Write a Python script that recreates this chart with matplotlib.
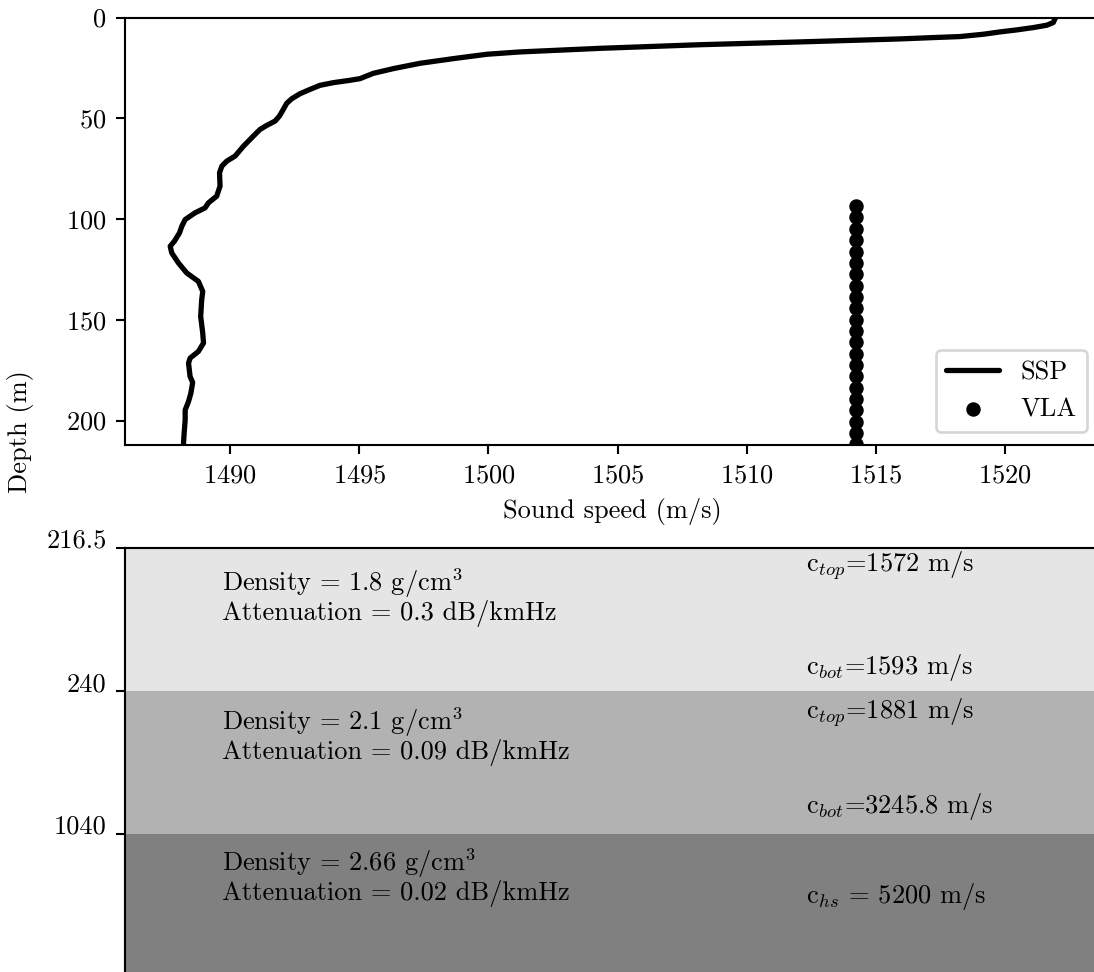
import matplotlib
matplotlib.use("Agg")
import matplotlib.pyplot as plt

plt.rcParams["font.family"] = "serif"
plt.rcParams["font.serif"] = ["cmr10"]
plt.rcParams["mathtext.fontset"] = "cm"
plt.rcParams["axes.formatter.use_mathtext"] = True
plt.rcParams["axes.unicode_minus"] = False
plt.rcParams["font.size"] = 10

# Sound speed profile (depth in m, sound speed in m/s)
ssp_depth = [0.0, 0.84, 2.50, 3.83, 4.99, 6.15, 7.14, 8.30, 9.46, 9.96,
             10.62, 11.12, 11.61, 12.11, 13.5, 15.3, 17.08, 18.24, 20.39,
             22.71, 25.36, 27.68, 30.33, 31.16, 32.32, 33.65, 35.64, 37.79,
             40.27, 42.59, 45.58, 48.89, 51.38, 53.53, 55.52, 58.83, 63.80,
             68.77, 71.26, 73.74, 77.05, 83.68, 88.65, 91.96, 94.45, 96.93,
             100.25, 103.56, 106.87, 111.02, 113.5, 116.8, 121.8, 126.75,
             130.9, 135.9, 140.0, 148.3, 156.6, 161.5, 165.7, 169.0, 171.5,
             178.1, 181.1, 186.4, 190.5, 194.7, 199.7, 206.3, 212.1]
ssp_speed = [1521.97, 1521.93, 1521.87, 1521.62, 1521.10, 1520.46, 1519.81,
             1519.17, 1518.26, 1517.23, 1515.94, 1514.65, 1513.36, 1512.07,
             1508.2, 1504.32, 1501.23, 1499.94, 1498.65, 1497.36, 1496.32,
             1495.55, 1495.03, 1494.64, 1494.0, 1493.48, 1493.10, 1492.71,
             1492.39, 1492.19, 1492.06, 1491.91, 1491.74, 1491.42, 1491.16,
             1490.90, 1490.52, 1490.19, 1489.87, 1489.68, 1489.59, 1489.61,
             1489.48, 1489.16, 1489.03, 1488.64, 1488.26, 1488.13, 1488.04,
             1487.84, 1487.68, 1487.74, 1488.0, 1488.32, 1488.77, 1488.94,
             1488.90, 1488.86, 1488.94, 1488.97, 1488.77, 1488.45, 1488.39,
             1488.45, 1488.55, 1488.48, 1488.39, 1488.26, 1488.26, 1488.22,
             1488.19]

# Vertical line array element depths and position in sound-speed axis
vla_depth = [93.6, 99.2, 104.9, 110.5, 116.1, 121.8, 127.4, 133.0, 138.6,
             144.3, 149.9, 155.5, 161.2, 166.8, 172.4, 178.0, 183.7, 189.3,
             194.9, 200.6, 206.2, 211.8]
vla_speed = 1514.25

# Seabed layers
layer_depths = ["216.5", "240", "1040"]
layer_colors = ["#e5e5e5", "#b2b2b2", "#808080"]
layer_density = ["1.8", "2.1", "2.66"]
layer_atten = ["0.3", "0.09", "0.02"]
c_top = ["1572", "1881"]
c_bot = ["1593", "3245.8"]
c_hs = "5200"

W, H, DPI = 1094, 972, 190
fig = plt.figure(figsize=(W / DPI, H / DPI), dpi=DPI)

# --- sound speed profile panel ---
ax1 = fig.add_axes([125 / W, 1 - 445 / H, 975 / W, (445 - 17.5) / H])
ax1.plot(ssp_speed, ssp_depth, color="black", lw=2, label="SSP",
         solid_joinstyle="round", solid_capstyle="round")
ax1.scatter([vla_speed] * len(vla_depth), vla_depth, s=20, color="black",
            label="VLA", zorder=3)
ax1.set_xlim(1485.93, 1523.68)
ax1.set_ylim(212.1, 0)
ax1.set_xticks([1490, 1495, 1500, 1505, 1510, 1515, 1520])
ax1.set_yticks([0, 50, 100, 150, 200])
ax1.spines["right"].set_visible(False)
ax1.set_xlabel("Sound speed (m/s)")
ax1.legend(loc="lower right")

fig.text(20 / W, 1 - 432 / H, "Depth (m)", rotation=90, ha="center",
         va="center")

# --- seabed layer panel ---
ax2 = fig.add_axes([125 / W, 1 - 977 / H, 975 / W, (977 - 548) / H])
ax2.set_xlim(0, 1)
ax2.set_ylim(3, 0)
for i, col in enumerate(layer_colors):
    ax2.axhspan(i, i + 1, color=col, lw=0)
ax2.set_yticks([0, 1, 2])
ax2.set_yticklabels(layer_depths)
for lab in ax2.get_yticklabels():
    lab.set_va("baseline")
ax2.set_xticks([])
ax2.spines["right"].set_visible(False)
ax2.spines["bottom"].set_visible(False)

tx, cx = 0.1, 0.698
dens_y = [0.245, 1.217, 2.203]
att_y = [0.455, 1.427, 2.413]
for i in range(3):
    ax2.text(tx, dens_y[i], f"Density = {layer_density[i]} g/cm$^3$",
             va="center", ha="left")
    ax2.text(tx, att_y[i], f"Attenuation = {layer_atten[i]} dB/kmHz",
             va="center", ha="left")
ctop_y = [0.119, 1.147]
cbot_y = [0.839, 1.811]
for i in range(2):
    ax2.text(cx, ctop_y[i], f"c$_{{top}}$={c_top[i]} m/s", va="center",
             ha="left")
    ax2.text(cx, cbot_y[i], f"c$_{{bot}}$={c_bot[i]} m/s", va="center",
             ha="left")
ax2.text(cx, 2.434, f"c$_{{hs}}$ = {c_hs} m/s", va="center", ha="left")

fig.savefig("out.png", dpi=DPI)
